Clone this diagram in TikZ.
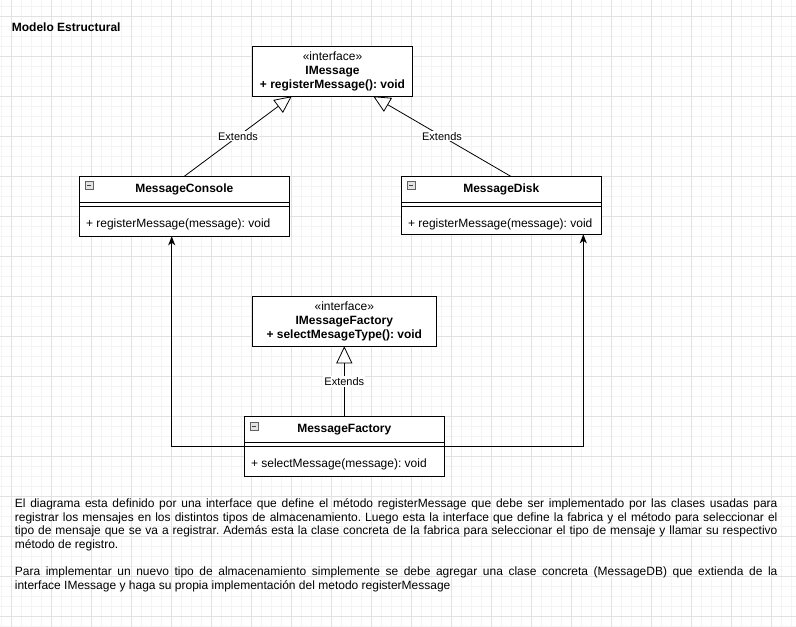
\documentclass[tikz,border=0pt]{standalone}
\usepackage{fontspec}
\setmainfont{Liberation Sans}
\usetikzlibrary{arrows.meta,calc}
\definecolor{gridmajor}{HTML}{E2E2E2}
\definecolor{gridminor}{HTML}{F4F4F4}
\frenchspacing
\begin{document}
\frenchspacing
\begin{tikzpicture}[x=1pt,y=-1pt,
  classbox/.style={draw=black, line width=1pt, inner sep=0pt, outer sep=0pt, anchor=north west, fill=white},
  txt/.style={inner sep=0pt, font=\fontsize{12}{14}\selectfont},
  ctitle/.style={inner sep=0pt, font=\fontsize{12}{14}\selectfont\bfseries},
  meth/.style={inner sep=0pt, anchor=base west, font=\fontsize{12}{14}\selectfont},
  sepline/.style={draw=black, line width=1pt},
  lbl/.style={fill=white, inner sep=1pt, font=\fontsize{11}{13}\selectfont},
  inh/.style={draw=black, line width=0.8pt, -{Triangle[open, length=17pt, width=16pt, line width=0.8pt]}},
  dep/.style={draw=black, line width=1pt, -{Stealth[length=9pt, width=7pt, inset=2.5pt]}},
  para/.style={anchor=base west, inner sep=0pt, font=\fontsize{12}{14}\selectfont},
  minusicon/.pic={
    \draw[fill=gray!22, draw=gray!75!black, line width=0.6pt] (0,0) rectangle (8,8);
    \draw[line width=0.9pt, draw=black!75] (2,4) -- (6,4);
  }
]
\useasboundingbox (0,0) rectangle (796,627);
\fill[white] (0,0) rectangle (796,627);
% grid
\foreach \x in {1.3,11.3,...,795} \draw[gridminor, line width=0.8pt] (\x,0) -- (\x,627);
\foreach \y in {6,16,...,626} \draw[gridminor, line width=0.8pt] (0,\y) -- (796,\y);
\foreach \x in {11.3,51.3,...,795} \draw[gridmajor, line width=0.9pt] (\x,0) -- (\x,627);
\foreach \y in {16,56,...,626} \draw[gridmajor, line width=0.9pt] (0,\y) -- (796,\y);

% title
\node[anchor=base west, inner sep=0pt, font=\fontsize{12}{14}\selectfont\bfseries] (title) at (11.7,31.2) {Modelo Estructural};

% IMessage
\node[classbox, minimum width=160.4pt, minimum height=50pt] (IM) at (252.3,46.3) {};
\node[txt, align=center] (IMt) at (IM.center) {«interface»\\\textbf{IMessage}\\\textbf{+ registerMessage(): void}};

% MessageConsole
\node[classbox, minimum width=210pt, minimum height=60pt] (CON) at (79.3,176.3) {};
\draw[sepline] ($(CON.north west)+(0,26)$) -- ($(CON.north east)+(0,26)$);
\draw[sepline] ($(CON.north west)+(0,30)$) -- ($(CON.north east)+(0,30)$);
\node[ctitle] (CONt) at ($(CON.north)+(0,13.4)$) {MessageConsole};
\node[meth] (CONm) at ($(CON.north west)+(6.5,51.2)$) {+ registerMessage(message): void};
\pic at ($(CON.north west)+(5.7,5.4)$) {minusicon};

% MessageDisk
\node[classbox, minimum width=200pt, minimum height=58pt] (DISK) at (401.3,176.3) {};
\draw[sepline] ($(DISK.north west)+(0,26)$) -- ($(DISK.north east)+(0,26)$);
\draw[sepline] ($(DISK.north west)+(0,30)$) -- ($(DISK.north east)+(0,30)$);
\node[ctitle] (DISKt) at ($(DISK.north)+(0,13.4)$) {MessageDisk};
\node[meth] (DISKm) at ($(DISK.north west)+(6.5,51.2)$) {+ registerMessage(message): void};
\pic at ($(DISK.north west)+(5.7,5.4)$) {minusicon};

% IMessageFactory
\node[classbox, minimum width=184pt, minimum height=49.6pt] (IMF) at (252.3,296.7) {};
\node[txt, align=center] (IMFt) at (IMF.center) {«interface»\\\textbf{IMessageFactory}\\\textbf{+ selectMesageType(): void}};

% MessageFactory
\node[classbox, minimum width=200pt, minimum height=59.6pt] (MF) at (244.3,416.7) {};
\draw[sepline] ($(MF.north west)+(0,26)$) -- ($(MF.north east)+(0,26)$);
\draw[sepline] ($(MF.north west)+(0,29.6)$) -- ($(MF.north east)+(0,29.6)$);
\node[ctitle] (MFt) at ($(MF.north)+(0,13.4)$) {MessageFactory};
\node[meth] (MFm) at ($(MF.north west)+(6.5,51)$) {+ selectMessage(message): void};
\pic at ($(MF.north west)+(5.7,5.4)$) {minusicon};

% connectors
\draw[inh] (CON.north) -- node[lbl, pos=0.5] {Extends} ($(IM.south)+(-40.8,0)$);
\draw[inh] ($(DISK.north)+(9.4,0)$) -- node[lbl, pos=0.5] {Extends} ($(IM.south)+(40.8,0)$);
\draw[inh] (MF.north) -- node[lbl, pos=0.5] {Extends} (IMF.south);
\draw[dep] ($(MF.north west)+(0,29.6)$) -| ($(CON.south west)+(92.4,0)$);
\draw[dep] ($(MF.north east)+(0,29.6)$) -| ($(DISK.south west)+(182,0)$);

% paragraphs
\node[para] (p1) at (14.7,507.6) {\makebox[762.6pt][s]{El diagrama esta definido por una interface que define el método registerMessage que debe ser implementado por las clases usadas para}};
\node[para] (p2) at (14.7,521.2) {\makebox[762.6pt][s]{registrar los mensajes en los distintos tipos de almacenamiento. Luego esta la interface que define la fabrica y el método para seleccionar el}};
\node[para] (p3) at (14.7,534.8) {\makebox[762.6pt][s]{tipo de mensaje que se va a registrar. Además esta la clase concreta de la fabrica para seleccionar el tipo de mensaje y llamar su respectivo}};
\node[para] (p4) at (14.7,548.4) {método de registro.};
\node[para] (p5) at (14.7,575.6) {\makebox[762.6pt][s]{Para implementar un nuevo tipo de almacenamiento simplemente se debe agregar una clase concreta (MessageDB) que extienda de la}};
\node[para] (p6) at (14.7,589.2) {interface IMessage y haga su propia implementación del metodo registerMessage};
\end{tikzpicture}
\end{document}
